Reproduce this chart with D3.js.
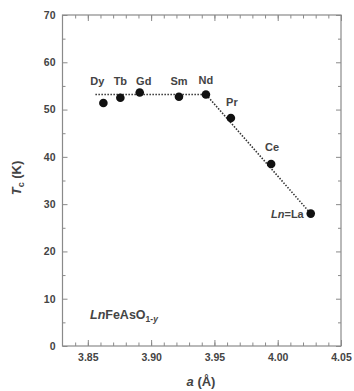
<!DOCTYPE html>
<html>
<head>
<meta charset="utf-8">
<script src="https://cdn.jsdelivr.net/npm/d3@7"></script>
<style>
body { margin: 0; background: #fff; }
text { font-family: "Liberation Sans", Arial, sans-serif; fill: #444; }
</style>
</head>
<body>
<svg id="chart" width="354" height="391"></svg>
<script>
// lattice constant a (Å) vs Tc (K) for LnFeAsO1-y
var elements = ["Dy", "Tb", "Gd", "Sm", "Nd", "Pr", "Ce", "La"];
var latticeA = [3.8623, 3.8757, 3.891, 3.922, 3.9433, 3.963, 3.9948, 4.0261];
var tcValues = [51.4, 52.5, 53.6, 52.7, 53.2, 48.2, 38.5, 28.0];
var guideA = [3.856, 3.9433, 4.0261];
var guideTc = [53.2, 53.2, 28.0];
var xTicks = [3.85, 3.90, 3.95, 4.00, 4.05];
var yTicks = [0, 10, 20, 30, 40, 50, 60, 70];

var pad_left = 62.5, pad_top = 15, pad_right = 13, pad_bot = 45;
var W = 354, H = 391;
var svg = d3.select("#chart");

var x = d3.scaleLinear().domain([3.83, 4.05]).range([pad_left, W - pad_right]);
var y = d3.scaleLinear().domain([0, 70]).range([H - pad_bot, pad_top]);
var bot = H - pad_bot;

var frameCol = "#8a8a8a";

// minor + major ticks, inward on all four sides
var xMinor = d3.range(3.84, 4.0501, 0.01);
var yMinor = d3.range(5, 70, 10);

function tickSet(axisGen, tickVals, size) {
    return axisGen.tickValues(tickVals).tickSizeInner(size).tickSizeOuter(0).tickFormat("");
}

var g = svg.append("g").attr("class", "axes");

// bottom
g.append("g").attr("transform", "translate(0," + bot + ")")
    .call(tickSet(d3.axisTop(x), xMinor, 3.5));
g.append("g").attr("transform", "translate(0," + bot + ")")
    .call(tickSet(d3.axisTop(x), xTicks, 6));
g.append("g").attr("transform", "translate(0," + bot + ")")
    .call(d3.axisBottom(x).tickValues(xTicks).tickSize(0).tickPadding(8)
        .tickFormat(d3.format(".2f")));
// top
g.append("g").attr("transform", "translate(0," + pad_top + ")")
    .call(tickSet(d3.axisBottom(x), xMinor, 3.5));
g.append("g").attr("transform", "translate(0," + pad_top + ")")
    .call(tickSet(d3.axisBottom(x), xTicks, 6));
// left
g.append("g").attr("transform", "translate(" + pad_left + ",0)")
    .call(tickSet(d3.axisRight(y), yTicks, 5));
g.append("g").attr("transform", "translate(" + pad_left + ",0)")
    .call(tickSet(d3.axisRight(y), yMinor, 3));
g.append("g").attr("transform", "translate(" + pad_left + ",0)")
    .call(d3.axisLeft(y).tickValues(yTicks).tickSize(0).tickPadding(7));
// right
g.append("g").attr("transform", "translate(" + (W - pad_right) + ",0)")
    .call(tickSet(d3.axisLeft(y), yTicks, 5));
g.append("g").attr("transform", "translate(" + (W - pad_right) + ",0)")
    .call(tickSet(d3.axisLeft(y), yMinor, 3));

g.selectAll(".domain").remove();
g.selectAll(".tick line").attr("stroke", frameCol);
g.selectAll(".tick text").attr("font-size", 10.5).attr("font-weight", "bold").attr("fill", "#555");

svg.append("rect")
    .attr("x", pad_left).attr("y", pad_top)
    .attr("width", W - pad_right - pad_left).attr("height", bot - pad_top)
    .attr("fill", "none").attr("stroke", frameCol).attr("stroke-width", 1.2);

// dotted guide line
var guide = d3.line().x(function (d) { return x(d[0]); }).y(function (d) { return y(d[1]); });
svg.append("path")
    .attr("d", guide(d3.zip(guideA, guideTc)))
    .attr("fill", "none").attr("stroke", "#333")
    .attr("stroke-width", 1.6).attr("stroke-dasharray", "1.5,1.5");

// points
svg.selectAll("circle.pt")
    .data(d3.range(elements.length))
    .enter().append("circle")
    .attr("class", "pt")
    .attr("cx", function (i) { return x(latticeA[i]); })
    .attr("cy", function (i) { return y(tcValues[i]); })
    .attr("r", 4.3)
    .attr("fill", "#111");

// element labels
var labelOff = { Dy: [-6, -18], Tb: [0, -13], Gd: [4, -8], Sm: [0, -12], Nd: [0, -10], Pr: [1, -12.5], Ce: [1, -12.5] };
svg.selectAll("text.el")
    .data(d3.range(elements.length - 1))
    .enter().append("text")
    .attr("class", "el")
    .attr("x", function (i) { return x(latticeA[i]) + labelOff[elements[i]][0]; })
    .attr("y", function (i) { return y(tcValues[i]) + labelOff[elements[i]][1]; })
    .attr("text-anchor", "middle")
    .attr("font-size", 11).attr("font-weight", "bold")
    .text(function (i) { return elements[i]; });

var laLabel = svg.append("text")
    .attr("x", x(latticeA[7]) - 7).attr("y", y(tcValues[7]) + 4)
    .attr("text-anchor", "end").attr("font-size", 11).attr("font-weight", "bold");
laLabel.append("tspan").attr("font-style", "italic").text("Ln");
laLabel.append("tspan").text("=La");

// compound label
var comp = svg.append("text")
    .attr("x", 90).attr("y", 319)
    .attr("font-size", 12.5).attr("font-weight", "bold");
comp.append("tspan").attr("font-style", "italic").text("Ln");
comp.append("tspan").text("FeAsO");
comp.append("tspan").attr("font-size", 8.5).attr("dy", 3).text("1-");
comp.append("tspan").attr("font-size", 8.5).attr("font-style", "italic").text("y");

// axis titles
var xt = svg.append("text")
    .attr("x", 201).attr("y", 386)
    .attr("text-anchor", "middle").attr("font-size", 13).attr("font-weight", "bold");
xt.append("tspan").attr("font-style", "italic").text("a");
xt.append("tspan").text(" (Å)");

var yt = svg.append("text")
    .attr("transform", "translate(21,178) rotate(-90)")
    .attr("text-anchor", "middle").attr("font-size", 13).attr("font-weight", "bold");
yt.append("tspan").attr("font-style", "italic").text("T");
yt.append("tspan").attr("font-size", 9).attr("dy", 3).text("c");
yt.append("tspan").attr("dy", -3).text(" (K)");
</script>
</body>
</html>
